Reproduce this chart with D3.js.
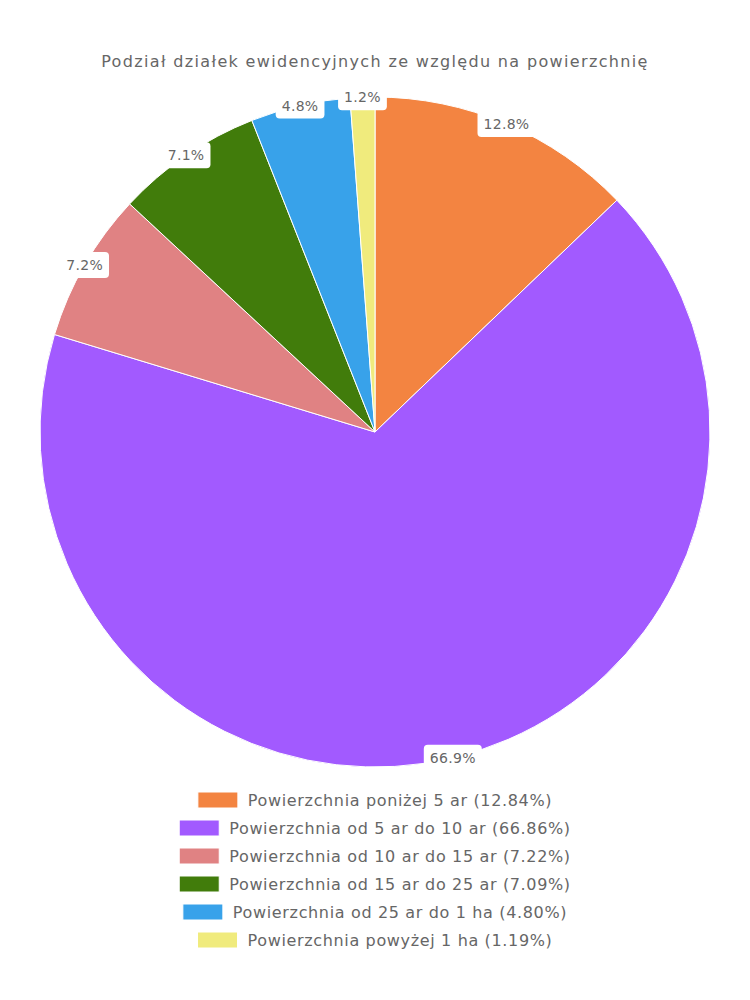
<!DOCTYPE html>
<html><head><meta charset="utf-8">
<script src="https://cdn.jsdelivr.net/npm/d3@7"></script>
<style>body{margin:0;background:#fff;}svg{display:block;font-family:"DejaVu Sans",sans-serif;}</style>
</head><body><svg id="c" width="750" height="1000"></svg>
<script>
const title = "Podział działek ewidencyjnych ze względu na powierzchnię";
const categories = ["Powierzchnia poniżej 5 ar","Powierzchnia od 5 ar do 10 ar","Powierzchnia od 10 ar do 15 ar","Powierzchnia od 15 ar do 25 ar","Powierzchnia od 25 ar do 1 ha","Powierzchnia powyżej 1 ha"];
const values = [12.84, 66.86, 7.22, 7.09, 4.80, 1.19];
const colors = ["#F38441","#A25AFF","#E08283","#417C0B","#38A2EA","#F0EB7D"];

const svg = d3.select("#c");
const cx = 375, cy = 432, r = 335;
svg.append("text").attr("x", cx).attr("y", 61).attr("text-anchor","middle")
  .attr("dominant-baseline","central")
  .attr("font-size", 16).attr("letter-spacing", 1.35).attr("fill","#666").text(title);

const pie = d3.pie().sort(null).value(d=>d)(values);
const arc = d3.arc().innerRadius(0).outerRadius(r);
const g = svg.append("g").attr("transform",`translate(${cx},${cy})`);
g.selectAll("path").data(pie).join("path").attr("d",arc)
  .attr("fill",(d,i)=>colors[i]).attr("stroke","#fff").attr("stroke-width",1);

const lab = d3.arc().innerRadius(r).outerRadius(r);
pie.forEach((d,i)=>{
  const [x,y] = lab.centroid(d);
  const t = g.append("text").attr("x",x).attr("y",y).attr("text-anchor","middle")
    .attr("dominant-baseline","central").attr("font-size",14).attr("letter-spacing",0.3).attr("fill","#666")
    .text(d3.format(".1f")(values[i])+"%");
  const bb = t.node().getBBox();
  g.insert("rect", () => t.node()).attr("x",bb.x-6).attr("y",y-13).attr("width",bb.width+12)
    .attr("height",26).attr("rx",4).attr("fill","#fff");
});

const leg = svg.append("g");
categories.forEach((c,i)=>{
  const y = 800 + i*28;
  const row = leg.append("g");
  const t = row.append("text").attr("x",0).attr("y",y).attr("dominant-baseline","central")
    .attr("font-size",16).attr("letter-spacing",0.65).attr("fill","#666")
    .text(`${c} (${d3.format(".2f")(values[i])}%)`);
  const w = t.node().getComputedTextLength();
  const total = 40 + 10 + w;
  const x0 = cx - total/2;
  row.append("rect").attr("x",x0).attr("y",y-8).attr("width",40).attr("height",16)
    .attr("fill",colors[i]).attr("stroke","#fff").attr("stroke-width",1);
  t.attr("x", x0 + 50);
});
</script></body></html>
